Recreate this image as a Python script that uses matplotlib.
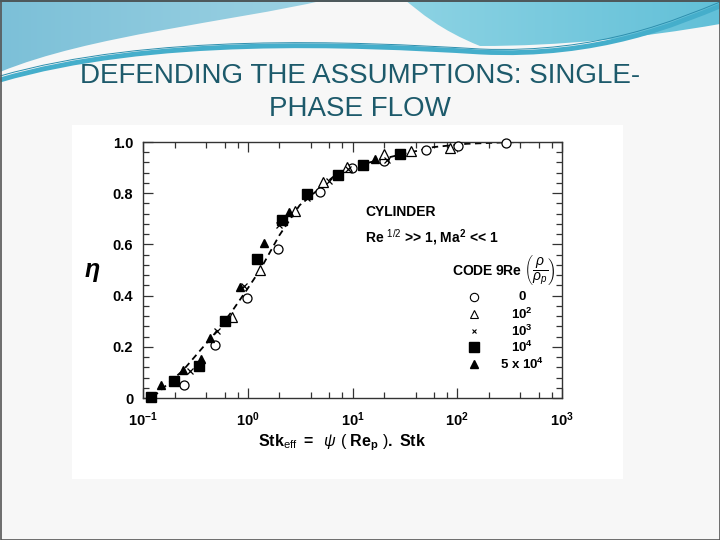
import numpy as np
import matplotlib
matplotlib.use('Agg')
import matplotlib.pyplot as plt
from matplotlib.ticker import LogLocator, MultipleLocator, NullFormatter, FixedLocator
from matplotlib.patches import Rectangle, PathPatch
from matplotlib.path import Path

plt.rcParams['font.family'] = ['Liberation Sans', 'DejaVu Sans']
plt.rcParams['mathtext.fontset'] = 'custom'
plt.rcParams['mathtext.rm'] = 'Liberation Sans'
plt.rcParams['mathtext.bf'] = 'Liberation Sans:bold'
plt.rcParams['mathtext.it'] = 'Liberation Sans:italic'

### data: Stk_eff vs eta, one set per CODE value
stk_0 = [0.247, 0.484, 0.98, 1.95, 4.89, 9.95, 20.0, 50.5, 101, 294]
eta_0 = [0.049, 0.208, 0.392, 0.583, 0.805, 0.898, 0.924, 0.967, 0.984, 0.997]

stk_1e2 = [0.70, 1.31, 2.84, 5.19, 8.93, 20.0, 36.2, 85.5]
eta_1e2 = [0.316, 0.499, 0.729, 0.844, 0.902, 0.954, 0.964, 0.978]

stk_1e3 = [0.284, 0.514, 0.925, 2.0, 3.65, 6.0, 9.1, 21.5]
eta_1e3 = [0.105, 0.26, 0.436, 0.674, 0.78, 0.846, 0.896, 0.928]

stk_1e4 = [0.120, 0.196, 0.340, 0.612, 1.23, 2.13, 3.65, 7.21, 12.7, 28.1]
eta_1e4 = [0.004, 0.068, 0.125, 0.299, 0.544, 0.694, 0.796, 0.872, 0.909, 0.952]

stk_5e4 = [0.150, 0.241, 0.356, 0.433, 0.84, 1.44, 2.47, 16.4]
eta_5e4 = [0.049, 0.108, 0.154, 0.236, 0.434, 0.605, 0.727, 0.935]

# dashed correlation curve
stk_fit = [0.125, 0.241, 0.48, 0.70, 0.97, 1.31, 2.0, 3.13, 6.5, 10.1, 19.6, 59, 123, 300, 1000]
eta_fit = [0.004, 0.108, 0.25, 0.336, 0.42, 0.50, 0.635, 0.753, 0.863, 0.902, 0.935, 0.98, 0.993, 0.999, 1.0]

legend_labels = ['0', r'$\mathbf{10^2}$', r'$\mathbf{10^3}$', r'$\mathbf{10^4}$', r'$\mathbf{5\ x\ 10^4}$']
xtick_labels = [r'$\mathbf{10^{-1}}$', r'$\mathbf{10^{0}}$', r'$\mathbf{10^{1}}$', r'$\mathbf{10^{2}}$', r'$\mathbf{10^{3}}$']
ytick_labels = ['0', '0.2', '0.4', '0.6', '0.8', '1.0']

fig = plt.figure(figsize=(7.2, 5.4), dpi=100)
fig.patch.set_facecolor('#f7f7f7')

### slide background in pixel coords
bg = fig.add_axes([0, 0, 1, 1], zorder=-5)
bg.set_xlim(0, 720)
bg.set_ylim(540, 0)
bg.axis('off')

def grad_patch(verts, codes, c1, c2):
	p = PathPatch(Path(verts, codes), fc='none', ec='none')
	bg.add_patch(p)
	g = np.linspace(0, 1, 256).reshape(1, -1)
	cmap = matplotlib.colors.LinearSegmentedColormap.from_list('g', [c1, c2])
	im = bg.imshow(g, extent=(0, 720, 120, 0), cmap=cmap, aspect='auto', zorder=1)
	im.set_clip_path(p)

M, L, C = Path.MOVETO, Path.LINETO, Path.CURVE4
# upper left swoosh
grad_patch([(0, 0), (325, 0), (230, 22), (90, 35), (0, 72), (0, 0)],
	[M, L, C, C, C, L], '#7cc0d8', '#c4e8f0')
# upper right swoosh
grad_patch([(405, 0), (720, 0), (720, 24), (640, 38), (560, 46), (480, 46), (440, 30), (420, 12), (405, 0)],
	[M, L, L, C, C, C, C, C, C], '#c4ebf2', '#62c0d8')
# thin band
band = Path([(0, 80), (150, 36), (350, 44), (480, 52), (600, 58), (680, 22), (720, 6)],
	[M, C, C, C, C, C, C])
bg.add_patch(PathPatch(band, fc='none', ec='#45aecb', lw=3.5, zorder=2))
band2 = Path([(0, 76), (150, 33), (350, 41), (480, 49), (600, 54), (680, 18), (720, 2)],
	[M, C, C, C, C, C, C])
bg.add_patch(PathPatch(band2, fc='none', ec='#2d8fae', lw=0.7, zorder=2))
bg.add_patch(Rectangle((0, 0), 720, 2, fc='#2d6f80', ec='none', zorder=3))

# white box behind the chart picture
bg.add_patch(Rectangle((72, 125), 551, 354, fc='white', ec='none', zorder=1))
# slide frame
bg.add_patch(Rectangle((0.5, 0.5), 719, 539, fc='none', ec='#555555', lw=1.2, zorder=4))

title_font = ['Liberation Sans Narrow', 'Liberation Sans', 'DejaVu Sans']
fig.text(0.5, 1 - 76 / 540, 'DEFENDING THE ASSUMPTIONS: SINGLE-', ha='center', va='center',
	fontsize=20, color='#1d5a6b', family=title_font)
fig.text(0.5, 1 - 109 / 540, 'PHASE FLOW', ha='center', va='center',
	fontsize=20, color='#1d5a6b', family=title_font)

### the chart itself
ax = fig.add_axes([143 / 720, (540 - 398) / 540, 419 / 720, 256 / 540])
ax.set_xscale('log')
ax.set_xlim(0.1, 1000)
ax.set_ylim(0, 1.0)

ax.plot(stk_fit, eta_fit, color='black', ls=(0, (3.5, 2.5)), lw=1.3, zorder=2)
ax.plot(stk_0, eta_0, 'o', ms=6.5, mfc='white', mec='black', mew=0.9, clip_on=False, zorder=3)
ax.plot(stk_1e2, eta_1e2, '^', ms=6.5, mfc='white', mec='black', mew=0.9, clip_on=False, zorder=3)
ax.plot(stk_1e3, eta_1e3, 'x', ms=4, mec='black', mew=0.9, clip_on=False, zorder=3)
ax.plot(stk_1e4, eta_1e4, 's', ms=6.5, mfc='black', mec='black', clip_on=False, zorder=4)
ax.plot(stk_5e4, eta_5e4, '^', ms=6, mfc='black', mec='black', clip_on=False, zorder=4)

ax.xaxis.set_major_locator(FixedLocator([0.1, 1, 10, 100, 1000]))
ax.set_xticklabels(xtick_labels)
ax.xaxis.set_minor_locator(LogLocator(base=10, subs=(2, 4, 6, 8)))
ax.xaxis.set_minor_formatter(NullFormatter())
ax.set_yticks([0, 0.2, 0.4, 0.6, 0.8, 1.0])
ax.set_yticklabels(ytick_labels)
ax.yaxis.set_minor_locator(MultipleLocator(0.04))
ax.tick_params(which='both', direction='in', top=True, right=True, width=0.9, color='#333333')
ax.tick_params(which='major', length=7)
ax.tick_params(which='minor', length=4)
ax.tick_params(axis='x', which='major', pad=9, labelsize=10.5)
ax.tick_params(axis='y', which='major', pad=7, labelsize=10.5)
for t in ax.get_yticklabels():
	t.set_fontweight('bold')
for s in ax.spines.values():
	s.set_linewidth(1.0)
	s.set_color('#333333')

ax.text(0.53, 0.727, 'CYLINDER', transform=ax.transAxes, fontsize=10, fontweight='bold', va='center')
ax.text(0.53, 0.629, r'Re $^{1/2}$ >> 1, Ma$^{\mathbf{2}}$ << 1', transform=ax.transAxes,
	fontsize=10, fontweight='bold', va='center')
ax.text(0.737, 0.50, r'CODE 9Re $\left(\dfrac{\rho}{\rho_p}\right)$', transform=ax.transAxes,
	fontsize=10, fontweight='bold', va='center')

### legend drawn by hand like the original figure
leg_y = [0.395, 0.328, 0.262, 0.198, 0.133]
leg_style = [dict(marker='o', ms=6, mfc='white', mec='black', mew=0.8),
	dict(marker='^', ms=6, mfc='white', mec='black', mew=0.8),
	dict(marker='x', ms=3.5, mec='black', mew=0.8),
	dict(marker='s', ms=6.5, mfc='black', mec='black'),
	dict(marker='^', ms=6, mfc='black', mec='black')]
for yy, st, lab in zip(leg_y, leg_style, legend_labels):
	ax.plot([0.79], [yy], ls='none', transform=ax.transAxes, **st)
	ax.text(0.905, yy, lab, transform=ax.transAxes, ha='center', va='center', fontsize=9.5, fontweight='bold')

fig.text(92 / 720, 1 - 270 / 540, 'η', fontsize=18, fontweight='bold', style='italic', ha='center', va='center')
fig.text(342 / 720, 1 - 443 / 540,
	r'$\mathbf{Stk}_{\mathrm{eff}}\ \mathbf{=}\ \ \psi\ (\ \mathbf{Re_p}\ )\mathbf{.\ Stk}$',
	fontsize=11.5, ha='center', va='center')

fig.savefig('out.png', dpi=100, facecolor=fig.get_facecolor())
